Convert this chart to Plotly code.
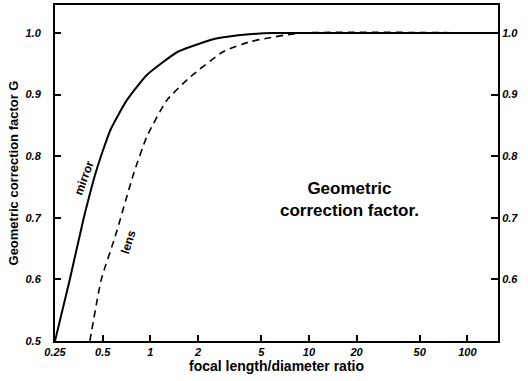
import plotly.graph_objects as go

# data
mirror_x = [0.25, 0.31, 0.38, 0.46, 0.56, 0.71, 0.95, 1.5, 2.6, 4.2, 6.0, 156]
mirror_g = [0.50, 0.60, 0.70, 0.78, 0.843, 0.891, 0.932, 0.970, 0.991, 0.998, 1.0, 1.0]
lens_x = [0.415, 0.49, 0.6, 0.78, 0.95, 1.27, 1.79, 2.89, 4.26, 5.55, 8.8, 156]
lens_g = [0.50, 0.60, 0.67, 0.77, 0.832, 0.891, 0.929, 0.970, 0.986, 0.992, 1.0, 1.0]

x_ticks = [0.25, 0.5, 1, 2, 5, 10, 20, 50, 100]
x_tick_labels = ["0.25", "0.5", "1", "2", "5", "10", "20", "50", "100"]
y_ticks_left = [0.5, 0.6, 0.7, 0.8, 0.9, 1.0]
y_ticks_right = [0.6, 0.7, 0.8, 0.9, 1.0]

font = "Liberation Sans, Arial, sans-serif"
tickfont = dict(family=font, size=11, color="black", style="italic", weight="bold")

fig = go.Figure()
fig.add_trace(go.Scatter(x=mirror_x, y=mirror_g, mode="lines",
                         line=dict(color="black", width=2, shape="spline", smoothing=0.5),
                         showlegend=False))
fig.add_trace(go.Scatter(x=lens_x, y=lens_g, mode="lines",
                         line=dict(color="black", width=1.6, dash="7px,5px", shape="spline", smoothing=0.5),
                         showlegend=False))
fig.add_trace(go.Scatter(x=[1], y=[0.7], yaxis="y2", mode="markers",
                         marker=dict(opacity=0), showlegend=False, hoverinfo="skip"))

fig.update_layout(
    width=528, height=381,
    margin=dict(l=55, r=30, t=5, b=40, autoexpand=False),
    paper_bgcolor="white", plot_bgcolor="white",
    xaxis=dict(type="log", range=[-0.602, 2.193], tickvals=x_ticks, ticktext=x_tick_labels,
               ticks="inside", ticklen=6, tickwidth=2, tickcolor="black",
               showline=True, linewidth=2, linecolor="black", mirror=True,
               showgrid=False, zeroline=False, tickfont=tickfont, automargin=False,
               title=dict(text="focal length/diameter ratio", standoff=2,
                          font=dict(family=font, size=14, color="black", weight="bold"))),
    yaxis=dict(range=[0.5, 1.0455], tickvals=y_ticks_left, ticktext=["0.5", "0.6", "0.7", "0.8", "0.9", "1.0"],
               ticks="inside", ticklen=6, tickwidth=2, tickcolor="black",
               showline=True, linewidth=2, linecolor="black", automargin=False,
               showgrid=False, zeroline=False, tickfont=tickfont, ticklabelstandoff=10,
               title=dict(text="Geometric correction factor G", standoff=4,
                          font=dict(family=font, size=13, color="black", weight="bold"))),
    yaxis2=dict(range=[0.5, 1.0455], overlaying="y", side="right", tickvals=y_ticks_right,
                ticktext=["0.6", "0.7", "0.8", "0.9", "1.0"], automargin=False,
                ticks="inside", ticklen=7, tickwidth=2, tickcolor="black",
                showline=True, linewidth=2, linecolor="black",
                showgrid=False, zeroline=False, tickfont=tickfont),
    annotations=[
        dict(x=1.258, y=0.729, xref="x", yref="y", showarrow=False,
             text="Geometric<br>correction factor.", align="center",
             font=dict(family=font, size=17, color="black", weight="bold")),
        dict(x=-0.42, y=0.765, xref="x", yref="y", showarrow=False, text="mirror",
             textangle=-70, font=dict(family=font, size=12, color="black", weight="bold")),
        dict(x=-0.137, y=0.66, xref="x", yref="y", showarrow=False, text="lens",
             textangle=-72, font=dict(family=font, size=12, color="black", weight="bold")),
    ],
)
fig.write_html("out.html", config={"displayModeBar": False},
               post_script="document.body.style.margin='0';")
